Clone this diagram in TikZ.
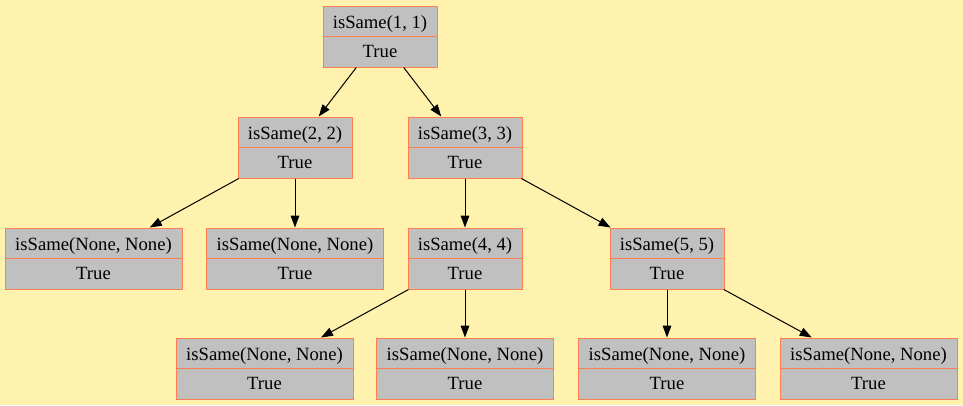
\documentclass[tikz,border=0pt]{standalone}
\usepackage{fontspec}
\setmainfont{Liberation Serif}
\usetikzlibrary{arrows.meta}
\definecolor{bgyellow}{HTML}{FFF2AE}
\definecolor{recgray}{HTML}{C0C0C0}
\definecolor{reccoral}{HTML}{FF7F50}

\begin{document}
\begin{tikzpicture}[x=0.75pt, y=-0.75pt,
  rec/.style={draw=reccoral, fill=recgray, line width=0.75pt, inner sep=0pt,
    minimum height=45.75pt, align=center, font=\fontsize{14}{21.6}\selectfont,
    path picture={\draw[reccoral, line width=0.75pt] (path picture bounding box.west) -- (path picture bounding box.east);}},
  edge/.style={-{Triangle[length=9pt,width=6.5pt]}, line width=0.75pt}]
  \fill[bgyellow] (0,0) rectangle (963,405);
  \useasboundingbox (0,0) rectangle (963,405);
  % records
  \foreach \name/\x/\y/\w/\call in {root/380/36.5/85.5/{isSame(1, 1)},
      n22/295/147.5/85.5/{isSame(2, 2)}, n33/465/147.5/85.5/{isSame(3, 3)},
      nl1/93.5/258.5/132.75/{isSame(None, None)}, nl2/295/258.5/132.75/{isSame(None, None)},
      n44/465/258.5/85.5/{isSame(4, 4)}, n55/667/258.5/85.5/{isSame(5, 5)},
      nb1/264.5/368.5/132.75/{isSame(None, None)}, nb2/465/368.5/132.75/{isSame(None, None)},
      nb3/667/368.5/132.75/{isSame(None, None)}, nb4/868.5/368.5/132.75/{isSame(None, None)}} {
    \node[rec, minimum width=\w pt] (\name) at (\x,\y) {\call\\True};
  }
  % calls
  \foreach \a/\b in {root/n22, root/n33, n22/nl1, n22/nl2, n33/n44, n33/n55,
      n44/nb1, n44/nb2, n55/nb3, n55/nb4} {
    \draw[edge] (\a) -- (\b);
  }
\end{tikzpicture}
\end{document}
